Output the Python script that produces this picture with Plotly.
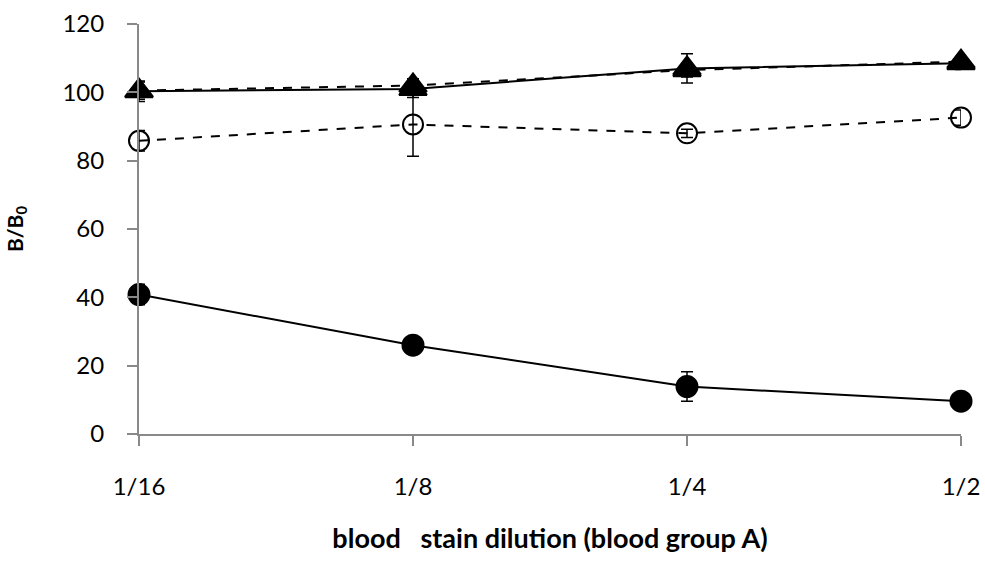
import plotly.graph_objects as go

categories = ["1/16", "1/8", "1/4", "1/2"]
x_pos = [0, 1, 2, 3]

tri_solid = [100.3, 101.0, 107.0, 108.5]
tri_solid_err = [3.0, 2.5, 4.3, 1.8]
tri_dash = [100.5, 102.0, 106.5, 109.0]
tri_dash_err = [2.5, 2.0, 2.0, 1.5]
open_circ = [85.8, 90.6, 88.0, 92.6]
open_circ_err = [3.0, 9.3, 1.2, 2.2]
filled_circ = [40.8, 26.0, 13.9, 9.6]
filled_circ_err = [3.0, 1.0, 4.3, 1.5]

fig = go.Figure()

def add(y, err, symbol, dash, size):
    fig.add_trace(go.Scatter(
        x=x_pos, y=y, mode="lines+markers", cliponaxis=False,
        line=dict(color="black", width=2, dash=dash),
        marker=dict(symbol=symbol, size=size, color="black",
                    line=dict(color="black", width=2)),
        error_y=dict(type="data", array=err, visible=True,
                     color="black", thickness=1.5, width=6),
        showlegend=False,
    ))

add(open_circ, open_circ_err, "circle-open", "dash", 20)
add(filled_circ, filled_circ_err, "circle", "solid", 21)
add(tri_dash, tri_dash_err, "triangle-up", "dash", 24)
add(tri_solid, tri_solid_err, "triangle-up", "solid", 24)

FONT = "Lato, 'Open Sans', sans-serif"
axis_font = dict(family=FONT, size=24, color="black")

fig.update_layout(
    width=985, height=561,
    margin=dict(l=139, r=24, t=24, b=127),
    plot_bgcolor="white", paper_bgcolor="white",
    xaxis=dict(
        range=[0, 3], tickvals=x_pos, ticktext=categories,
        automargin=False,
        showline=True, linecolor="#898989", linewidth=2,
        ticks="outside", ticklen=10, tickcolor="#898989", tickwidth=2,
        showgrid=False, zeroline=False, tickfont=axis_font,
        ticklabelstandoff=20,
        title=dict(text="<b>blood   stain dilution (blood group A)</b>",
                   font=dict(family=FONT, size=27, color="black"),
                   standoff=30),
    ),
    yaxis=dict(
        range=[0, 120], tickvals=[0, 20, 40, 60, 80, 100, 120],
        automargin=False,
        showline=True, linecolor="#898989", linewidth=2,
        ticks="outside", ticklen=10, tickcolor="#898989", tickwidth=2,
        showgrid=False, zeroline=False, tickfont=axis_font,
        ticklabelstandoff=18,
        title=dict(text="<b>B/B<sub>0</sub></b>",
                   font=dict(family=FONT, size=21, color="black"),
                   standoff=33),
    ),
)

fig.write_html("out.html")
